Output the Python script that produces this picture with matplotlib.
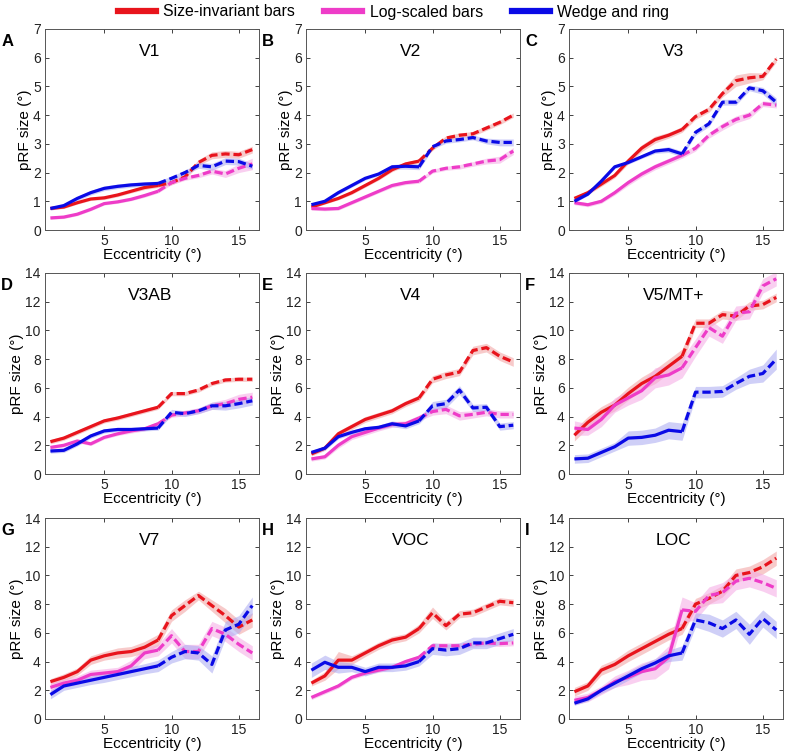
import numpy as np
import matplotlib
matplotlib.use("Agg")
import matplotlib.pyplot as plt
from matplotlib.lines import Line2D

plt.rcParams['font.family'] = ['Liberation Sans', 'DejaVu Sans']

# eccentricity bins (deg)
ecc = [1, 2, 3, 4, 5, 6, 7, 8, 9, 10, 11, 12, 13, 14, 15, 16]
regions = ["V1", "V2", "V3", "V3AB", "V4", "V5/MT+", "V7", "VOC", "LOC"]
letters = ["A", "B", "C", "D", "E", "F", "G", "H", "I"]
series_names = ["Size-invariant bars", "Log-scaled bars", "Wedge and ring"]

size_invariant = [
    [0.75, 0.80, 0.95, 1.08, 1.12, 1.22, 1.35, 1.48, 1.55, 1.65, 1.85, 2.35, 2.6, 2.65, 2.62, 2.8],
    [0.80, 0.95, 1.1, 1.3, 1.55, 1.8, 2.1, 2.3, 2.4, 2.85, 3.2, 3.3, 3.35, 3.55, 3.75, 4.0],
    [1.1, 1.3, 1.6, 1.9, 2.4, 2.85, 3.15, 3.3, 3.5, 3.95, 4.2, 4.75, 5.2, 5.3, 5.35, 5.95],
    [2.25, 2.5, 2.9, 3.3, 3.7, 3.9, 4.15, 4.4, 4.65, 5.6, 5.6, 5.85, 6.3, 6.55, 6.6, 6.6],
    [1.4, 1.8, 2.8, 3.3, 3.8, 4.1, 4.4, 4.9, 5.3, 6.6, 6.9, 7.1, 8.6, 8.8, 8.2, 7.8],
    [2.7, 3.6, 4.3, 4.8, 5.6, 6.3, 6.8, 7.5, 8.2, 10.5, 10.5, 11.1, 11.0, 11.7, 11.8, 12.3],
    [2.6, 2.9, 3.3, 4.1, 4.4, 4.6, 4.7, 5.0, 5.5, 7.2, 7.9, 8.6, 7.9, 7.2, 6.4, 6.9],
    [2.5, 3.0, 4.1, 4.1, 4.6, 5.1, 5.5, 5.7, 6.3, 7.4, 6.5, 7.3, 7.4, 7.8, 8.2, 8.1],
    [1.9, 2.3, 3.4, 3.8, 4.4, 4.9, 5.4, 5.9, 6.3, 8.0, 8.4, 8.9, 10.0, 10.2, 10.6, 11.2],
]
log_scaled = [
    [0.42, 0.45, 0.55, 0.72, 0.92, 0.98, 1.07, 1.2, 1.35, 1.65, 1.8, 1.9, 2.05, 1.95, 2.15, 2.3],
    [0.75, 0.73, 0.75, 0.95, 1.15, 1.35, 1.55, 1.65, 1.7, 2.05, 2.15, 2.2, 2.3, 2.4, 2.45, 2.75],
    [0.95, 0.88, 1.0, 1.3, 1.65, 1.95, 2.2, 2.4, 2.6, 2.85, 3.3, 3.6, 3.85, 4.0, 4.4, 4.35],
    [1.85, 2.0, 2.3, 2.1, 2.55, 2.8, 3.0, 3.15, 3.5, 4.1, 4.25, 4.4, 4.75, 4.9, 5.2, 5.35],
    [1.05, 1.2, 2.0, 2.6, 2.9, 3.2, 3.45, 3.5, 3.9, 4.35, 4.5, 4.05, 4.15, 4.3, 4.15, 4.15],
    [3.2, 3.1, 3.8, 4.8, 5.3, 5.8, 6.7, 6.9, 7.4, 8.8, 10.2, 9.6, 11.2, 11.3, 13.1, 13.6],
    [2.2, 2.5, 2.7, 3.1, 3.2, 3.3, 3.7, 4.6, 4.8, 5.8, 4.7, 4.7, 6.3, 5.9, 5.2, 4.6],
    [1.5, 1.9, 2.3, 2.9, 3.2, 3.4, 3.6, 4.0, 4.3, 5.1, 5.1, 5.1, 5.2, 5.3, 5.25, 5.3],
    [1.3, 1.5, 2.0, 2.6, 2.9, 3.3, 3.5, 4.3, 7.6, 7.5, 8.6, 8.8, 9.6, 9.8, 9.5, 9.1],
]
wedge_ring = [
    [0.75, 0.85, 1.1, 1.3, 1.45, 1.52, 1.57, 1.6, 1.62, 1.8, 2.0, 2.25, 2.2, 2.4, 2.38, 2.22],
    [0.88, 1.0, 1.3, 1.55, 1.8, 1.95, 2.2, 2.22, 2.2, 2.9, 3.1, 3.15, 3.22, 3.1, 3.05, 3.05],
    [1.0, 1.25, 1.7, 2.2, 2.35, 2.55, 2.75, 2.8, 2.65, 3.4, 3.7, 4.45, 4.45, 4.95, 4.85, 4.45],
    [1.6, 1.65, 2.1, 2.65, 3.0, 3.1, 3.1, 3.15, 3.2, 4.3, 4.2, 4.4, 4.75, 4.75, 4.9, 5.1],
    [1.5, 1.8, 2.6, 2.9, 3.15, 3.25, 3.5, 3.35, 3.7, 4.75, 4.9, 5.85, 4.6, 4.65, 3.3, 3.4],
    [1.05, 1.1, 1.5, 1.9, 2.5, 2.55, 2.7, 3.05, 2.95, 5.7, 5.7, 5.75, 6.3, 6.8, 7.0, 8.0],
    [1.7, 2.3, 2.5, 2.7, 2.9, 3.1, 3.3, 3.5, 3.7, 4.3, 4.7, 4.6, 3.8, 6.2, 6.6, 7.9],
    [3.4, 3.95, 3.6, 3.6, 3.3, 3.6, 3.6, 3.7, 4.0, 4.9, 4.8, 4.9, 5.3, 5.3, 5.6, 5.9],
    [1.1, 1.4, 2.0, 2.5, 3.0, 3.5, 3.9, 4.4, 4.6, 6.9, 6.7, 6.3, 6.9, 5.9, 7.0, 6.2],
]

# standard errors (half-width of shaded band)
size_invariant_se = [
    [0.05, 0.05, 0.05, 0.05, 0.06, 0.06, 0.06, 0.07, 0.07, 0.08, 0.08, 0.1, 0.12, 0.12, 0.12, 0.12],
    [0.05, 0.05, 0.05, 0.06, 0.06, 0.06, 0.07, 0.07, 0.07, 0.08, 0.08, 0.08, 0.08, 0.08, 0.08, 0.08],
    [0.07, 0.07, 0.08, 0.08, 0.1, 0.12, 0.12, 0.1, 0.1, 0.1, 0.1, 0.12, 0.2, 0.18, 0.12, 0.1],
    [0.15, 0.15, 0.15, 0.15, 0.15, 0.15, 0.15, 0.15, 0.15, 0.15, 0.15, 0.15, 0.15, 0.15, 0.15, 0.15],
    [0.15, 0.15, 0.2, 0.2, 0.2, 0.2, 0.2, 0.2, 0.2, 0.25, 0.25, 0.25, 0.3, 0.3, 0.3, 0.3],
    [0.4, 0.4, 0.4, 0.4, 0.45, 0.45, 0.5, 0.5, 0.5, 0.3, 0.3, 0.3, 0.3, 0.3, 0.3, 0.3],
    [0.2, 0.25, 0.25, 0.3, 0.3, 0.35, 0.35, 0.4, 0.4, 0.4, 0.4, 0.3, 0.4, 0.5, 0.5, 0.5],
    [0.2, 0.3, 0.6, 0.3, 0.25, 0.25, 0.25, 0.25, 0.3, 0.4, 0.3, 0.25, 0.25, 0.25, 0.25, 0.25],
    [0.3, 0.3, 0.35, 0.35, 0.4, 0.4, 0.4, 0.4, 0.4, 0.4, 0.4, 0.4, 0.45, 0.45, 0.5, 0.5],
]
log_scaled_se = [
    [0.05, 0.05, 0.05, 0.05, 0.05, 0.05, 0.05, 0.06, 0.06, 0.07, 0.07, 0.08, 0.1, 0.12, 0.15, 0.2],
    [0.06, 0.06, 0.06, 0.06, 0.06, 0.06, 0.07, 0.07, 0.07, 0.07, 0.07, 0.08, 0.08, 0.1, 0.12, 0.12],
    [0.07, 0.07, 0.07, 0.08, 0.1, 0.1, 0.1, 0.1, 0.1, 0.1, 0.1, 0.12, 0.12, 0.12, 0.1, 0.1],
    [0.12, 0.12, 0.12, 0.12, 0.12, 0.12, 0.15, 0.15, 0.15, 0.15, 0.2, 0.2, 0.25, 0.3, 0.35, 0.35],
    [0.15, 0.15, 0.2, 0.2, 0.2, 0.2, 0.2, 0.2, 0.2, 0.25, 0.3, 0.3, 0.25, 0.25, 0.25, 0.25],
    [0.5, 0.4, 0.5, 0.5, 0.5, 0.6, 0.7, 0.7, 0.7, 0.6, 0.6, 0.5, 0.5, 0.5, 0.5, 0.5],
    [0.3, 0.3, 0.3, 0.3, 0.3, 0.3, 0.4, 0.4, 0.4, 0.5, 0.5, 0.5, 0.5, 0.5, 0.5, 0.5],
    [0.15, 0.15, 0.15, 0.15, 0.15, 0.15, 0.15, 0.15, 0.15, 0.2, 0.2, 0.2, 0.2, 0.2, 0.2, 0.2],
    [0.3, 0.3, 0.3, 0.4, 0.5, 0.6, 0.7, 0.8, 0.9, 0.6, 0.6, 0.7, 0.6, 0.6, 0.6, 0.6],
]
wedge_ring_se = [
    [0.06, 0.06, 0.07, 0.08, 0.08, 0.08, 0.08, 0.08, 0.08, 0.08, 0.08, 0.1, 0.12, 0.12, 0.12, 0.1],
    [0.06, 0.06, 0.06, 0.06, 0.06, 0.06, 0.08, 0.1, 0.1, 0.08, 0.08, 0.08, 0.08, 0.1, 0.12, 0.12],
    [0.05, 0.05, 0.05, 0.06, 0.06, 0.06, 0.08, 0.1, 0.1, 0.1, 0.1, 0.1, 0.1, 0.1, 0.12, 0.15],
    [0.15, 0.15, 0.15, 0.15, 0.15, 0.15, 0.15, 0.15, 0.15, 0.2, 0.2, 0.2, 0.25, 0.3, 0.3, 0.3],
    [0.15, 0.15, 0.15, 0.15, 0.15, 0.15, 0.2, 0.2, 0.2, 0.3, 0.3, 0.3, 0.25, 0.25, 0.25, 0.25],
    [0.3, 0.3, 0.3, 0.3, 0.5, 0.5, 0.5, 0.6, 0.6, 0.4, 0.4, 0.4, 0.4, 0.5, 0.6, 0.7],
    [0.3, 0.3, 0.3, 0.3, 0.35, 0.35, 0.35, 0.35, 0.4, 0.4, 0.5, 0.5, 0.6, 0.6, 0.6, 0.6],
    [0.5, 0.5, 0.4, 0.3, 0.3, 0.3, 0.3, 0.3, 0.3, 0.4, 0.4, 0.4, 0.4, 0.4, 0.4, 0.4],
    [0.15, 0.15, 0.2, 0.3, 0.3, 0.3, 0.3, 0.4, 0.5, 0.5, 0.6, 0.6, 0.6, 0.7, 0.6, 0.6],
]

colors = ["#e8141c", "#ee3cc8", "#0a0ae6"]
band_colors = ["#f2a0a0", "#f5a8e4", "#a8a8f2"]
ymax = [7, 7, 7, 14, 14, 14, 14, 14, 14]
split = 9  # solid up to 9 deg, dashed beyond

W, H = 787, 755
fig = plt.figure(figsize=(W / 100, H / 100), dpi=100)

lefts = [45, 306, 569]
tops = [29, 273, 518]
aw, ah = 214, 201

ecc_a = np.array(ecc)
for i, name in enumerate(regions):
    r, c = divmod(i, 3)
    ax = fig.add_axes([lefts[c] / W, 1 - (tops[r] + ah) / H, aw / W, ah / H])
    data = [size_invariant[i], log_scaled[i], wedge_ring[i]]
    errs = [size_invariant_se[i], log_scaled_se[i], wedge_ring_se[i]]
    for k in range(3):
        y = np.array(data[k])
        e = np.array(errs[k])
        ax.fill_between(ecc_a, y - e, y + e, color=band_colors[k], alpha=0.55,
                        linewidth=0, zorder=1 + k)
    for k in range(3):
        y = np.array(data[k])
        solid = ecc_a <= split
        dashed = ecc_a >= split
        ax.plot(ecc_a[solid], y[solid], color=colors[k], lw=2.3,
                solid_capstyle='butt', zorder=5 + k)
        ax.plot(ecc_a[dashed], y[dashed], color=colors[k], lw=2.3,
                dashes=(2.6, 1.2), zorder=5 + k)

    ax.set_xlim(0.6, 16.5)
    ax.set_ylim(0, ymax[i])
    ax.set_xticks([5, 10, 15])
    if ymax[i] == 7:
        ax.set_yticks(range(0, 8))
    else:
        ax.set_yticks(range(0, 15, 2))
    ax.tick_params(direction='in', length=3, width=0.6, top=True, right=True,
                   labelsize=10, pad=3, colors='#222222')
    for s in ax.spines.values():
        s.set_linewidth(0.7)
        s.set_color('#555555')
    ax.set_xlabel('Eccentricity (°)', fontsize=11, labelpad=0)
    ax.set_ylabel('pRF size (°)', fontsize=11, labelpad=1)
    ax.text(0.49, 0.89, name, transform=ax.transAxes, ha='center', va='center',
            fontsize=12.5)
    ax.text(-0.205, 0.975, letters[i], transform=ax.transAxes, ha='left', va='top',
            fontsize=12, fontweight='bold')

handles = [Line2D([0], [0], color=colors[k], lw=4.5) for k in range(3)]
fig.legend(handles, series_names, loc='center', bbox_to_anchor=(0.5, 1 - 12 / H),
           ncol=3, frameon=False, fontsize=11.4, handlelength=2.4,
           handletextpad=0.5, columnspacing=1.8)

fig.savefig('out.png', dpi=100)
